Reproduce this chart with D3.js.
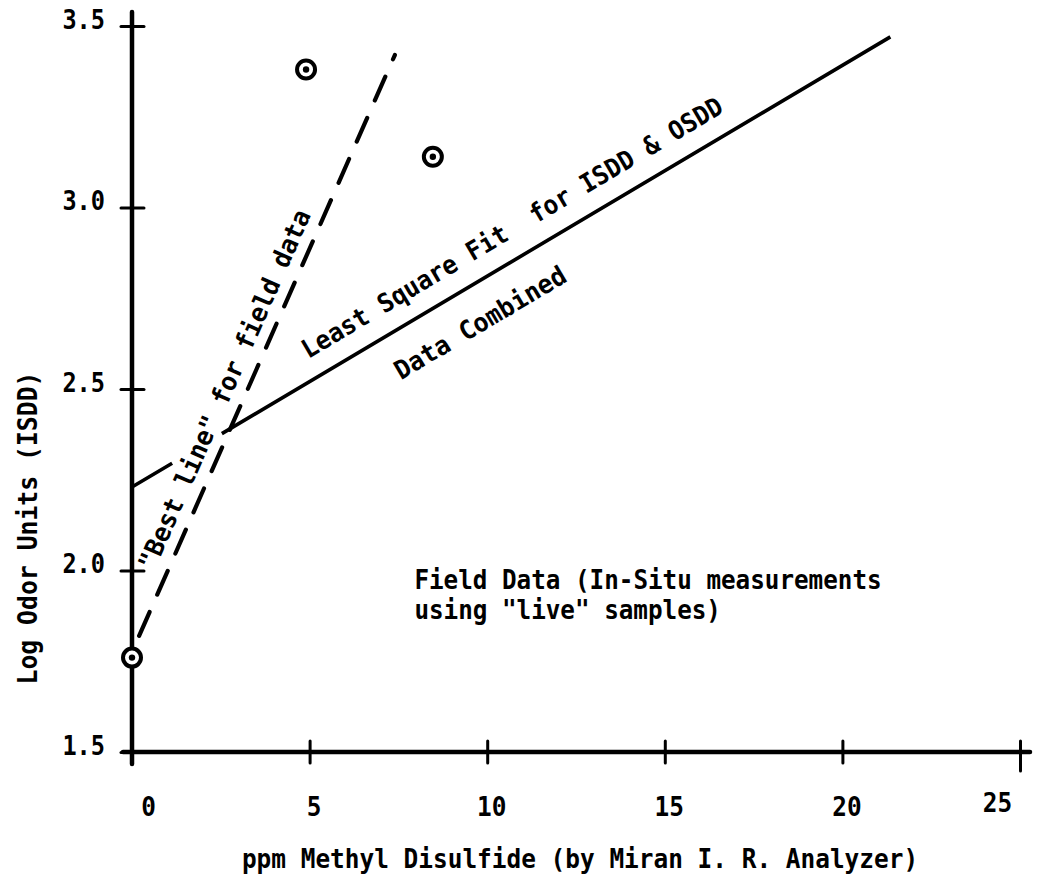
<!DOCTYPE html>
<html>
<head>
<meta charset="utf-8">
<script src="https://cdn.jsdelivr.net/npm/d3@7"></script>
<style>
  html, body { margin: 0; padding: 0; background: #fff; }
  svg { display: block; }
  text { font-family: "DejaVu Sans Mono", "Liberation Mono", monospace; font-weight: bold; fill: #000; white-space: pre; }
</style>
</head>
<body>
<svg id="chart" width="1040" height="889"></svg>
<script>
// Field data (in-situ measurements): ppm methyl disulfide vs. log odor units
const ppm = [0, 4.9, 8.47];
const logOdor = [1.76, 3.38, 3.14];

// Least square fit for ISDD & OSDD data combined (end points)
const fitX = [0, 21.35];
const fitY = [2.23, 3.47];
// stretch of the fit line (ppm) left open where the "Best line" label crosses it
const fitGap = [1.13, 2.53];

// "Best line" for field data (end points)
const bestX = [0.2, 7.4];
const bestY = [1.82, 3.42];

// Axis ticks
const xTicks = [0, 5, 10, 15, 20, 25];
const yTicks = [1.5, 2.0, 2.5, 3.0, 3.5];

// Text
const xTitle = "ppm Methyl Disulfide (by Miran I. R. Analyzer)";
const yTitle = "Log Odor Units (ISDD)";
const bestLabel = "\"Best line\" for field data";
const fitLabelAbove = "Least Square Fit  for ISDD & OSDD";
const fitLabelBelow = "Data Combined";
const noteLines = ["Field Data (In-Situ measurements", "using \"live\" samples)"];

const svg = d3.select("#chart");
const ink = "#000";
const pitch = 14.7;          // typewriter character pitch, px

const x = d3.scaleLinear().domain([0, 25]).range([132, 1020]);
const y = d3.scaleLinear().domain([1.5, 3.5]).range([752, 26]);

// ---- axes ----
svg.append("line")
  .attr("x1", x(0) - 9).attr("x2", x(25) + 10)
  .attr("y1", y(1.5)).attr("y2", y(1.5))
  .attr("stroke", ink).attr("stroke-width", 4.5).attr("stroke-linecap", "round");
svg.append("line")
  .attr("x1", x(0)).attr("x2", x(0))
  .attr("y1", y(3.5) - 14).attr("y2", y(1.5) + 12)
  .attr("stroke", ink).attr("stroke-width", 4.5).attr("stroke-linecap", "round");

const xAxis = svg.append("g")
  .attr("transform", `translate(0,${y(1.5)})`)
  .call(d3.axisBottom(x).tickValues(xTicks).tickSize(0).tickFormat(d3.format("d")))
  .attr("font-family", null).attr("font-size", 27);
xAxis.select(".domain").remove();
xAxis.selectAll(".tick line").remove();
xAxis.selectAll(".tick").append("line")
  .attr("y1", -11).attr("y2", d => d === 25 ? 19 : 11)
  .attr("stroke", ink).attr("stroke-width", 3).attr("stroke-linecap", "round");
xAxis.selectAll(".tick text")
  .attr("y", d => d === 25 ? 60 : 64).attr("dy", 0)
  .attr("dx", d => d === 0 ? 16 : d === 25 ? -23 : 4)
  .attr("textLength", function () { return this.textContent.length * pitch; })
  .attr("lengthAdjust", "spacingAndGlyphs");

const yAxis = svg.append("g")
  .attr("transform", `translate(${x(0)},0)`)
  .call(d3.axisLeft(y).tickValues(yTicks).tickSize(0).tickFormat(d3.format(".1f")))
  .attr("font-family", null).attr("font-size", 27);
yAxis.select(".domain").remove();
yAxis.selectAll(".tick line").remove();
yAxis.selectAll(".tick").append("line")
  .attr("x1", -11).attr("x2", 12)
  .attr("stroke", ink).attr("stroke-width", 3).attr("stroke-linecap", "round");
yAxis.selectAll(".tick text")
  .attr("x", -27).attr("y", 2).attr("dy", 0)
  .attr("textLength", function () { return this.textContent.length * 14.2; })
  .attr("lengthAdjust", "spacingAndGlyphs");

// axis titles
svg.append("text")
  .attr("x", 580).attr("y", 868)
  .attr("text-anchor", "middle").attr("font-size", 27)
  .attr("textLength", xTitle.length * pitch).attr("lengthAdjust", "spacingAndGlyphs")
  .text(xTitle);
svg.append("text")
  .attr("transform", "translate(37,528) rotate(-90)")
  .attr("text-anchor", "middle").attr("font-size", 27)
  .attr("textLength", 313).attr("lengthAdjust", "spacingAndGlyphs")
  .text(yTitle);

// ---- lines ----
const line = d3.line().x(d => x(d[0])).y(d => y(d[1]));

const fitPts = d3.zip(fitX, fitY);
const fitLen = Math.hypot(x(fitX[1]) - x(fitX[0]), y(fitY[1]) - y(fitY[0]));
const fitSpan = fitX[1] - fitX[0];
const g0 = (fitGap[0] - fitX[0]) / fitSpan * fitLen;
const g1 = (fitGap[1] - fitX[0]) / fitSpan * fitLen;
svg.append("path")
  .attr("d", line(fitPts))
  .attr("fill", "none").attr("stroke", ink).attr("stroke-width", 3.6)
  .attr("stroke-dasharray", `${g0} ${g1 - g0} ${fitLen}`);

svg.append("path")
  .attr("d", line(d3.zip(bestX, bestY)))
  .attr("fill", "none").attr("stroke", ink).attr("stroke-width", 4.2)
  .attr("stroke-linecap", "round")
  .attr("stroke-dasharray", "26 19");

// ---- data points: ringed dots ----
const pts = svg.append("g").selectAll("g")
  .data(d3.zip(ppm, logOdor)).join("g")
  .attr("transform", d => `translate(${x(d[0])},${y(d[1])})`);
pts.append("circle").attr("r", 9).attr("fill", "#fff").attr("stroke", ink).attr("stroke-width", 4);
pts.append("circle").attr("r", 3.2).attr("fill", ink);

// ---- labels laid along a line ----
function labelAlong(xs, ys, at, offset, str, len) {
  const px0 = x(xs[0]), py0 = y(ys[0]), px1 = x(xs[1]), py1 = y(ys[1]);
  const dx = px1 - px0, dy = py1 - py0, L = Math.hypot(dx, dy);
  const ux = dx / L, uy = dy / L;
  const t = (x(at) - px0) / dx;
  const fx = px0 + t * dx, fy = py0 + t * dy;
  const cx = fx + offset * uy, cy = fy - offset * ux;
  const ang = Math.atan2(dy, dx) * 180 / Math.PI;
  svg.append("text")
    .attr("transform", `translate(${cx},${cy}) rotate(${ang})`)
    .attr("text-anchor", "middle").attr("dy", "0.36em").attr("font-size", 26)
    .attr("textLength", len).attr("lengthAdjust", "spacingAndGlyphs")
    .text(str);
}
labelAlong(bestX, bestY, 3.15, 21.6, bestLabel, 390);
labelAlong(fitX, fitY, 11.12, 29.5, fitLabelAbove, 485);
labelAlong(fitX, fitY, 9.28, -36, fitLabelBelow, 195);

// ---- note ----
noteLines.forEach((s, i) => {
  svg.append("text")
    .attr("x", x(7.95)).attr("y", y(1.95) + i * 30)
    .attr("font-size", 26)
    .attr("textLength", s.length * 14.6).attr("lengthAdjust", "spacingAndGlyphs")
    .text(s);
});
</script>
</body>
</html>
